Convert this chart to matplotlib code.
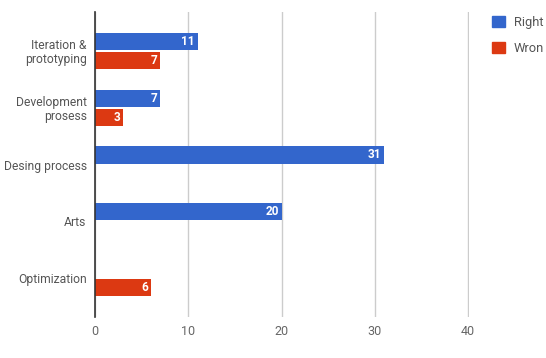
import matplotlib
matplotlib.use("Agg")
import matplotlib.pyplot as plt
from matplotlib.patches import Patch
import numpy as np

plt.rcParams['font.family'] = ['Roboto', 'DejaVu Sans']

categories = ["Iteration &\nprototyping", "Development\nprosess", "Desing process", "Arts", "Optimization"]
right = [11, 7, 31, 20, 0]
wrong = [7, 3, 0, 0, 6]
series_names = ["Right", "Wron"]
colors = ["#3366CC", "#DC3912"]
xticks = [0, 10, 20, 30, 40]

fig = plt.figure(figsize=(5.46, 3.58), dpi=100)
ax = fig.add_axes([95/546, 1-317/358, (469-95)/546, (317-12)/358])

y = np.arange(len(categories))
h = 0.30
off = 0.167
for vals, sign, c in [(right, -1, colors[0]), (wrong, 1, colors[1])]:
    for yi, v in zip(y, vals):
        if v <= 0:
            continue
        ax.barh(yi + sign*off, v, height=h, color=c, zorder=3)
        ax.text(v - 0.3, yi + sign*off, str(v), ha='right', va='center',
                color='white', fontsize=8.5, fontweight='bold', zorder=4)

ax.set_xlim(0, 40.1)
ax.set_ylim(len(categories) - 1 + 0.68, -0.68)
ax.set_xticks(xticks)
ax.set_xticklabels([str(t) for t in xticks], color='#666666', fontsize=9)
ax.set_yticks(y)
ax.set_yticklabels(categories, color='#555555', fontsize=8.7, linespacing=1.05)
ax.tick_params(axis='both', length=0, pad=6)
ax.grid(axis='x', color='#cccccc', linewidth=1, zorder=0)
for s in ['top', 'right', 'bottom']:
    ax.spines[s].set_visible(False)
ax.spines['left'].set_color('#333333')
ax.spines['left'].set_linewidth(1.2)
ax.spines['left'].set_zorder(5)

handles = [Patch(color=c) for c in colors]
fig.legend(handles, series_names, loc='upper left', bbox_to_anchor=(480/546, 1-4/358),
           frameon=False, fontsize=9.3, handlelength=1.0, handleheight=1.0,
           handletextpad=0.7, labelspacing=1.0, labelcolor='#555555')

fig.savefig("out.png", dpi=100)
